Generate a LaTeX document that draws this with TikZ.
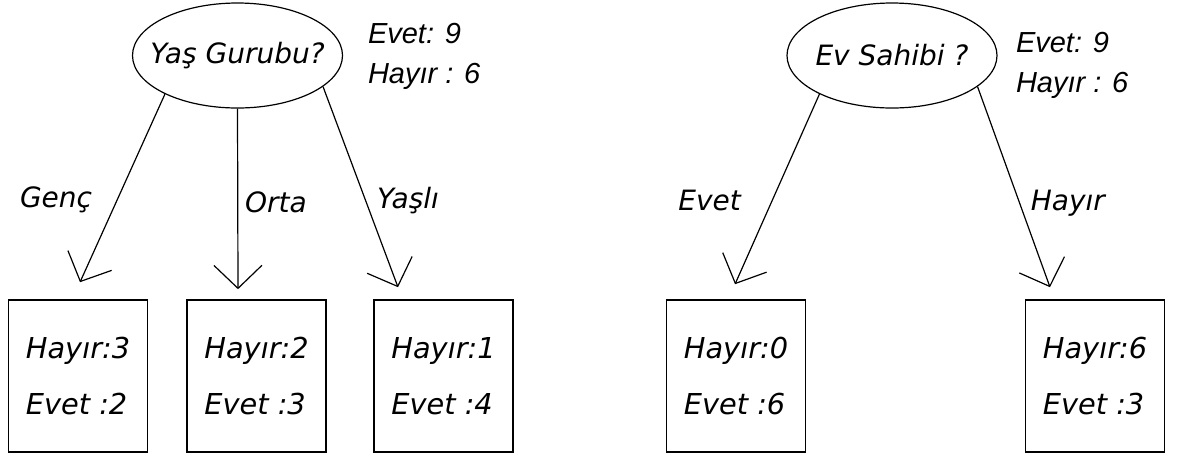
\documentclass[tikz,border=0pt]{standalone}
\usepackage{fontspec}
\setmainfont{DejaVu Sans}
\newfontfamily\countfont{Liberation Sans}
\usetikzlibrary{arrows.meta, shapes.geometric, positioning}
\tikzset{
  question/.style={draw, ellipse, line width=0.6pt, minimum width=105pt, minimum height=52.5pt, inner xsep=-8pt, inner ysep=0pt, font=\fontsize{14}{17}\selectfont\itshape},
  leaf/.style={draw, rectangle, line width=0.8pt, minimum width=69.5pt, minimum height=76pt, align=left, font=\fontsize{14.4}{28}\selectfont\itshape},
  branch/.style={font=\fontsize{14}{17}\selectfont\itshape},
  tally/.style={align=left, inner sep=0pt, font=\countfont\fontsize{14.5}{20}\selectfont\itshape},
  arr/.style={-{Straight Barb[length=11.5pt, width=24pt, line width=0.6pt]}, line width=0.6pt}
}
\begin{document}
\begin{tikzpicture}[x=0.5pt, y=-0.5pt]
\useasboundingbox (0,0) rectangle (1182,457);
\node[question] (q0) at (237.5,55.5) {Yaş Gurubu?};
\node[tally, right=12.25pt of q0.east, anchor=north west, yshift=16.25pt] (t0) {Evet: 9\\Hayır : 6};
\node[leaf] (q1) at (78,376) {Hayır:3\\Evet :2};
\node[leaf] (q2) at (256.5,376) {Hayır:2\\Evet :3};
\node[leaf] (q3) at (443.5,376) {Hayır:1\\Evet :4};
\node[question] (q4) at (892,55.5) {Ev Sahibi ?};
\node[tally, right=9pt of q4.east, anchor=north west, yshift=11.75pt] (t4) {Evet: 9\\Hayır : 6};
\node[leaf] (q5) at (736,376) {Hayır:0\\Evet :6};
\node[leaf] (q6) at (1095,376) {Hayır:6\\Evet :3};
\draw[arr] (q0.208) -- node[branch, pos=0.56, left, xshift=-9pt] {Genç} ([xshift=1pt, yshift=8.5pt]q1.north);
\draw[arr] (q0.south) -- node[branch, pos=0.52, right] {Orta} ([xshift=-9.25pt, yshift=5pt]q2.north);
\draw[arr] (q0.340) -- node[branch, pos=0.57, right, xshift=2pt] {Yaşlı} ([xshift=-22.75pt, yshift=6pt]q3.north);
\draw[arr] (q4.208) -- node[branch, pos=0.56, left, xshift=-12pt] {Evet} ([xshift=-0.5pt, yshift=7.5pt]q5.north);
\draw[arr] (q4.340) -- node[branch, pos=0.58, right, xshift=2pt] {Hayır} ([xshift=-22.5pt, yshift=6pt]q6.north);
\end{tikzpicture}
\end{document}
